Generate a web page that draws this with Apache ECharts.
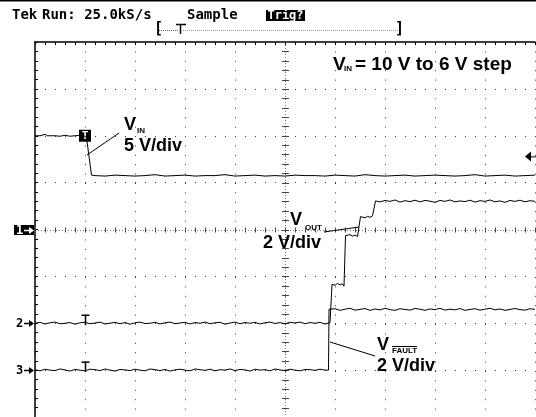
<!DOCTYPE html>
<html><head><meta charset="utf-8">
<script src="https://cdn.jsdelivr.net/npm/echarts@6/dist/echarts.min.js"></script>
<style>html,body{margin:0;padding:0;background:#fff;overflow:hidden}#c{width:536px;height:417px}</style>
</head><body><div id="c"></div>
<script>
// ---- screen layout in divisions (centre = 0) ----
const X_RANGE = [-5, 5];
const Y_RANGE = [-4, 4];
// ---- channel settings ----
const CH_VIN    = {id: '1', voltsPerDiv: 5, groundDiv: 0};
const CH_VOUT   = {id: '2', voltsPerDiv: 2, groundDiv: -2};
const CH_VFAULT = {id: '3', voltsPerDiv: 2, groundDiv: -3};
const TRIGGER_TIME_DIV = -4.0;
const TRIGGER_LEVEL_V = 7.8;
// ---- header texts ----
const HEADER = ['Tek', 'Run: 25.0kS/s', 'Sample', 'Trig?'];
// ---- traces: [time (div), volts] ----
const VIN_TRACE = [
 [-5.0,10.0],[-4.9,10.0],[-4.8,10.15],[-4.75,10.0],[-4.6,10.0],[-4.5,9.95],[-4.4,10.05],[-4.3,9.95],[-4.2,10.0],[-4.1,10.05],[-4.02,10.0],[-3.97,9.8],[-3.87,5.8],
 [-3.8,5.75],[-3.6,5.70],[-3.4,5.80],[-3.2,5.75],[-3.0,5.70],[-2.8,5.75],[-2.6,5.85],[-2.4,5.70],[-2.2,5.75],[-2.0,5.80],
 [-1.8,5.70],[-1.6,5.75],[-1.4,5.75],[-1.2,5.85],[-1.0,5.70],[-0.8,5.75],[-0.6,5.80],[-0.4,5.70],[-0.2,5.75],[0.0,5.70],
 [0.2,5.80],[0.4,5.75],[0.6,5.75],[0.8,5.70],[1.0,5.80],[1.2,5.75],[1.4,5.70],[1.6,5.85],[1.8,5.75],[2.0,5.70],
 [2.2,5.75],[2.4,5.80],[2.6,5.70],[2.8,5.75],[3.0,5.80],[3.2,5.75],[3.4,5.70],[3.6,5.75],[3.8,5.85],[4.0,5.70],
 [4.2,5.75],[4.4,5.80],[4.6,5.70],[4.8,5.75],[5.0,5.80]
];
const VOUT_TRACE = [
 [-5.0,0.00],[-4.9,0.04],[-4.8,-0.03],[-4.7,0.02],[-4.6,0.05],[-4.5,-0.02],[-4.4,0.00],[-4.3,0.03],[-4.2,-0.04],[-4.1,0.02],
 [-4.0,0.04],[-3.9,-0.02],[-3.8,0.01],[-3.7,0.05],[-3.6,-0.03],[-3.5,0.00],[-3.4,0.04],[-3.3,-0.02],[-3.2,0.03],[-3.1,-0.04],
 [-3.0,0.02],[-2.9,0.05],[-2.8,-0.01],[-2.7,0.00],[-2.6,0.04],[-2.5,-0.03],[-2.4,0.02],[-2.3,0.05],[-2.2,-0.02],[-2.1,0.01],
 [-2.0,0.04],[-1.9,-0.03],[-1.8,0.03],[-1.7,0.00],[-1.6,0.05],[-1.5,-0.02],[-1.4,0.02],[-1.3,0.04],[-1.2,-0.04],[-1.1,0.01],
 [-1.0,0.05],[-0.9,-0.02],[-0.8,0.03],[-0.7,0.00],[-0.6,0.04],[-0.5,-0.03],[-0.4,0.02],[-0.3,0.05],[-0.2,-0.01],[-0.1,0.03],
 [0.0,-0.03],[0.1,0.04],[0.2,0.01],[0.3,0.05],[0.4,-0.02],[0.5,0.03],[0.6,0.00],[0.7,0.04],[0.8,-0.03],[0.9,0.02],
 [0.93,0.00],[0.94,1.66],[1.0,1.62],[1.05,1.70],[1.1,1.64],[1.15,1.68],[1.18,1.58],[1.2,1.62],
 [1.21,3.74],[1.25,3.70],[1.3,3.78],[1.35,3.72],[1.4,3.76],[1.45,3.70],[1.49,3.74],
 [1.51,4.55],[1.55,4.58],[1.6,4.50],[1.65,4.56],[1.7,4.52],[1.75,4.58],[1.79,4.54],
 [1.81,5.22],[1.9,5.18],[2.0,5.24],[2.1,5.20],[2.2,5.26],[2.3,5.17],[2.4,5.23],[2.5,5.19],[2.6,5.25],[2.7,5.18],
 [2.8,5.24],[2.9,5.21],[3.0,5.16],[3.1,5.24],[3.2,5.20],[3.3,5.26],[3.4,5.18],[3.5,5.22],[3.6,5.19],[3.7,5.25],
 [3.8,5.17],[3.9,5.23],[4.0,5.20],[4.1,5.26],[4.2,5.18],[4.3,5.22],[4.4,5.16],[4.5,5.24],[4.6,5.20],[4.7,5.25],
 [4.8,5.18],[4.9,5.23],[5.0,5.20]
];
const VFAULT_TRACE = [
 [-5.0,0.02],[-4.9,-0.03],[-4.8,0.04],[-4.7,0.00],[-4.6,-0.02],[-4.5,0.05],[-4.4,0.01],[-4.3,-0.04],[-4.2,0.03],[-4.1,0.00],
 [-4.0,-0.03],[-3.9,0.04],[-3.8,0.02],[-3.7,-0.02],[-3.6,0.05],[-3.5,0.00],[-3.4,-0.04],[-3.3,0.03],[-3.2,0.01],[-3.1,-0.02],
 [-3.0,0.04],[-2.9,0.00],[-2.8,-0.03],[-2.7,0.05],[-2.6,0.02],[-2.5,-0.02],[-2.4,0.03],[-2.3,-0.04],[-2.2,0.01],[-2.1,0.04],
 [-2.0,0.00],[-1.9,-0.03],[-1.8,0.05],[-1.7,0.02],[-1.6,-0.01],[-1.5,0.04],[-1.4,-0.03],[-1.3,0.02],[-1.2,0.00],[-1.1,0.05],
 [-1.0,-0.02],[-0.9,0.03],[-0.8,0.01],[-0.7,-0.04],[-0.6,0.04],[-0.5,0.00],[-0.4,0.02],[-0.3,-0.03],[-0.2,0.05],[-0.1,0.01],
 [0.0,-0.02],[0.1,0.04],[0.2,0.00],[0.3,-0.03],[0.4,0.03],[0.5,0.02],[0.6,-0.01],[0.7,0.04],[0.8,0.00],
 [0.87,0.00],[0.88,2.60],
 [0.9,2.58],[1.0,2.62],[1.1,2.55],[1.2,2.60],[1.3,2.64],[1.4,2.56],[1.5,2.59],[1.6,2.63],[1.7,2.55],[1.8,2.61],
 [1.9,2.57],[2.0,2.64],[2.1,2.58],[2.2,2.55],[2.3,2.62],[2.4,2.59],[2.5,2.56],[2.6,2.63],[2.7,2.60],[2.8,2.55],
 [2.9,2.61],[3.0,2.58],[3.1,2.64],[3.2,2.56],[3.3,2.60],[3.4,2.57],[3.5,2.63],[3.6,2.55],[3.7,2.59],[3.8,2.62],
 [3.9,2.56],[4.0,2.60],[4.1,2.64],[4.2,2.57],[4.3,2.61],[4.4,2.55],[4.5,2.59],[4.6,2.63],[4.7,2.58],[4.8,2.56],
 [4.9,2.62],[5.0,2.59]
];

const toDiv = (trace, ch) => trace.map(([t, v]) => [t, v / ch.voltsPerDiv + ch.groundDiv]);

const LABEL_FONT = '"Liberation Sans", Arial, sans-serif';
const HDR_FONT = '"DejaVu Sans Mono", monospace';
const DOT = '#3a3a3a';

const chart = echarts.init(document.getElementById('c'), null, {renderer: 'canvas'});

function traceSeries(name, data) {
  return {
    name, type: 'line', data, showSymbol: false, symbol: 'none',
    lineStyle: {color: '#000', width: 1}, z: 5, animation: false, clip: false
  };
}

const option = {
  animation: false,
  backgroundColor: '#fff',
  grid: {left: 35, top: 42, width: 500, height: 376},
  xAxis: {
    type: 'value', min: X_RANGE[0], max: X_RANGE[1], interval: 1, position: 'top',
    axisLine: {show: true, onZero: false, lineStyle: {color: '#000', width: 1.5}},
    axisTick: {show: true, inside: true, length: 3, lineStyle: {color: '#000'}},
    minorTick: {show: true, splitNumber: 5, length: 3, lineStyle: {color: '#000'}},
    axisLabel: {show: false},
    splitLine: {show: true, lineStyle: {color: DOT, width: 1, type: [1, 8.4]}}
  },
  yAxis: {
    type: 'value', min: Y_RANGE[0], max: Y_RANGE[1], interval: 1, position: 'left',
    axisLine: {show: true, onZero: false, lineStyle: {color: '#000', width: 1.5}},
    axisTick: {show: true, inside: true, length: 3, lineStyle: {color: '#000'}},
    minorTick: {show: true, splitNumber: 5, length: 3, lineStyle: {color: '#000'}},
    axisLabel: {show: false},
    splitLine: {show: true, lineStyle: {color: DOT, width: 1, type: [1, 9]}}
  },
  series: [
    {
      type: 'custom', data: [[0, 0]], z: 2, silent: true,
      renderItem: (params, api) => {
        const ch = [];
        const l = api.coord([X_RANGE[0], 0]), r = api.coord([X_RANGE[1], 0]);
        const t = api.coord([0, Y_RANGE[1]]), b = api.coord([0, Y_RANGE[0]]);
        ch.push({type: 'line', shape: {x1: l[0], y1: Math.round(l[1]) + 0.5, x2: r[0], y2: Math.round(r[1]) + 0.5}, style: {stroke: '#777', lineWidth: 1, lineDash: [1, 2]}});
        ch.push({type: 'line', shape: {x1: Math.round(t[0]) + 0.5, y1: t[1], x2: Math.round(b[0]) + 0.5, y2: b[1]}, style: {stroke: '#777', lineWidth: 1, lineDash: [1, 2]}});
        for (let k = 0; k <= 50; k++) {
          const p = api.coord([X_RANGE[0] + k * 0.2, 0]);
          const x = Math.round(p[0]) + 0.5;
          ch.push({type: 'line', shape: {x1: x, y1: p[1] - 2, x2: x, y2: p[1] + 3}, style: {stroke: '#444', lineWidth: 1}});
        }
        for (let k = 0; k <= 40; k++) {
          const p = api.coord([0, Y_RANGE[0] + k * 0.2]);
          const y = Math.round(p[1]) + 0.5;
          ch.push({type: 'line', shape: {x1: p[0] - 3, y1: y, x2: p[0] + 4, y2: y}, style: {stroke: '#444', lineWidth: 1}});
        }
        return {type: 'group', children: ch};
      }
    },
    Object.assign(traceSeries('VIN', toDiv(VIN_TRACE, CH_VIN)), {
      markPoint: {
        symbol: 'rect', symbolSize: [12, 12], animation: false,
        itemStyle: {color: '#000'},
        label: {show: true, formatter: 'T', color: '#fff', fontWeight: 'bold', fontSize: 11, fontFamily: HDR_FONT},
        data: [{coord: [TRIGGER_TIME_DIV, 10 / CH_VIN.voltsPerDiv + CH_VIN.groundDiv]}]
      }
    }),
    traceSeries('VOUT', toDiv(VOUT_TRACE, CH_VOUT)),
    traceSeries('VFAULT', toDiv(VFAULT_TRACE, CH_VFAULT))
  ]
};
chart.setOption(option);

// ---------- decorations positioned through the chart's own scales ----------
const px = (x, y) => chart.convertToPixel({gridIndex: 0}, [x, y]);
const g = [];
function txt(x, y, text, font, fill, align) {
  g.push({type: 'text', x, y, z: 20, style: {text, font, fill: fill || '#000', align: align || 'left', verticalAlign: 'middle'}});
}
function ln(x1, y1, x2, y2, stroke, w, dash) {
  g.push({type: 'line', z: 20, shape: {x1, y1, x2, y2}, style: {stroke: stroke || '#000', lineWidth: w || 1, lineDash: dash || null}});
}
// top frame line
ln(0, 0.5, 536, 0.5, '#000', 2);
// header
txt(12, 15, HEADER[0], 'bold 14px ' + HDR_FONT);
txt(42, 15, HEADER[1], 'bold 14px ' + HDR_FONT);
txt(187, 15, HEADER[2], 'bold 14px ' + HDR_FONT);
g.push({type: 'rect', z: 19, shape: {x: 266, y: 10, width: 39, height: 11}, style: {fill: '#000'}});
txt(285.5, 15.5, HEADER[3], 'bold 12px ' + HDR_FONT, '#fff', 'center');
// record bracket
txt(154, 29, '[', 'bold 15px ' + HDR_FONT);
txt(395, 29, ']', 'bold 15px ' + HDR_FONT);
ln(159, 30.5, 178, 30.5, '#555', 1, [1, 1]);
ln(183, 30.5, 398, 30.5, '#999', 1, [1, 1]);
ln(176, 24.5, 186, 24.5, '#000', 1.5);
ln(180.5, 24, 180.5, 34, '#000', 1.5);

// ground markers
[CH_VIN, CH_VOUT, CH_VFAULT].forEach((ch, i) => {
  const y = Math.round(px(X_RANGE[0], ch.groundDiv)[1]);
  const inv = i === 0;
  if (inv) g.push({type: 'rect', z: 19, shape: {x: 14, y: y - 5, width: 20, height: 10}, style: {fill: '#000'}});
  const c = inv ? '#fff' : '#000';
  txt(16, y + 0.5, ch.id, 'bold 12px ' + HDR_FONT, c);
  ln(24, y + 0.5, 30, y + 0.5, c, 1.5);
  g.push({type: 'polygon', z: 20, shape: {points: [[29, y - 3], [34, y + 0.5], [29, y + 4]]}, style: {fill: c}});
});
// trigger markers on ch2/ch3
[CH_VOUT, CH_VFAULT].forEach(ch => {
  const p = px(TRIGGER_TIME_DIV, ch.groundDiv);
  const x = Math.round(p[0]) + 0.5;
  ln(x - 4, p[1] - 8, x + 4, p[1] - 8, '#000', 1.5);
  ln(x, p[1] - 8, x, p[1] + 2, '#000', 1.5);
});
// trigger level arrow on right edge
{
  const p = px(X_RANGE[1], TRIGGER_LEVEL_V / CH_VIN.voltsPerDiv + CH_VIN.groundDiv);
  g.push({type: 'polygon', z: 20, shape: {points: [[p[0] - 10, p[1]], [p[0] - 4, p[1] - 5], [p[0] - 4, p[1] + 5]]}, style: {fill: '#000'}});
  ln(p[0] - 5, p[1] + 0.5, p[0] + 1, p[1] + 0.5, '#000', 1);
}
// annotations
const BIG = 'bold 18px ' + LABEL_FONT, SUB = 'bold 8px ' + LABEL_FONT;
// VIN
txt(124, 125, 'V', BIG); txt(137, 130.5, 'IN', SUB); txt(124, 146.5, '5 V/div', BIG);
ln(87, 155, 119, 133);
// title
txt(333, 65, 'V', 'bold 19px ' + LABEL_FONT); txt(344, 68.5, 'IN', SUB); txt(355, 65, '= 10 V to 6 V step', 'bold 19px ' + LABEL_FONT);
// VOUT
txt(290, 220, 'V', BIG); txt(305, 228, 'OUT', SUB); txt(263, 243.5, '2 V/div', BIG);
ln(324, 232, 359, 227);
// VFAULT
txt(377, 345, 'V', BIG); txt(392, 350.5, 'FAULT', SUB); ln(392, 346.5, 417, 346.5, '#000', 1);
txt(377, 366.5, '2 V/div', BIG);
ln(330, 342, 375, 356);

chart.setOption({graphic: {elements: g}});
</script>
</body></html>
